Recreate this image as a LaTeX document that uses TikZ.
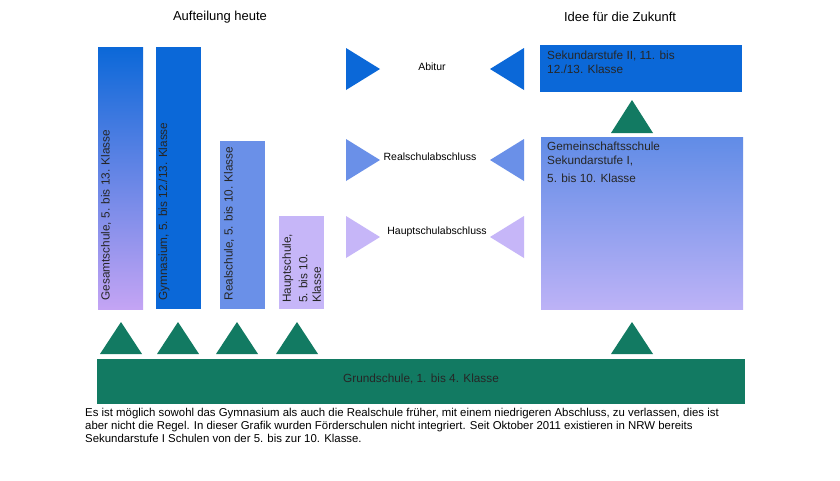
\documentclass[tikz,border=0pt]{standalone}
\usepackage{fontspec}
\setmainfont{Liberation Sans}
\begin{document}
\begin{tikzpicture}[x=1pt,y=-1pt,
  lbl/.style={font=\fontsize{11.8}{13.5}\selectfont,text=black!85},
  box/.style={draw=none,inner sep=0pt}]
\definecolor{grn}{HTML}{127A62}
\definecolor{b1}{HTML}{0B68D8}
\definecolor{b2}{HTML}{6A90E8}
\definecolor{b3}{HTML}{C6B6F8}
\definecolor{vl}{HTML}{C4A4F4}
\useasboundingbox (0,0) rectangle (840,480);
\fill[white] (0,0) rectangle (840,480);
\node[font=\fontsize{13}{15}\selectfont] (t1) at (220,17) {Aufteilung heute};
\node[font=\fontsize{13}{15}\selectfont] (t2) at (620,17) {Idee für die Zukunft};
% bars
\shade[top color=b1,bottom color=vl] (98,47) rectangle (143,309);
\fill[b1] (156,47) rectangle (201,309);
\fill[b2] (220,141) rectangle (265,309);
\fill[b3] (279,216) rectangle (324,309);
\node[lbl,rotate=90,anchor=west] (g1) at (106,304) {Gesamtschule, 5. bis 13. Klasse};
\node[lbl,rotate=90,anchor=west] (g2) at (164,304) {Gymnasium, 5. bis 12./13. Klasse};
\node[lbl,rotate=90,anchor=west] (g3) at (229,304) {Realschule, 5. bis 10. Klasse};
\node[lbl,rotate=90,anchor=north west,align=left,inner sep=1pt] (g4) at (281,304) {Hauptschule,\\[3pt]5. bis 10.\\Klasse};
% green triangles
\foreach \c in {121,178,237,297,632}{\fill[grn] (\c-21,354) -- (\c,322) -- (\c+21,354) -- cycle;}
\fill[grn] (611,133) -- (632,100) -- (653,133) -- cycle;
% Grundschule
\fill[grn] (97,359) rectangle (745,404);
\node[lbl] (gs) at (421,379) {Grundschule, 1. bis 4. Klasse};
% arrows
\fill[b1] (346,48) -- (380,69) -- (346,90) -- cycle;
\fill[b2] (346,139) -- (380,160) -- (346,181) -- cycle;
\fill[b3] (346,216) -- (380,237) -- (346,258) -- cycle;
\fill[b1] (524,48) -- (490,69) -- (524,90) -- cycle;
\fill[b2] (524,139) -- (490,160) -- (524,181) -- cycle;
\fill[b3] (524,216) -- (490,237) -- (524,258) -- cycle;
\node[font=\fontsize{10.5}{12}\selectfont] (a1) at (432,67) {Abitur};
\node[font=\fontsize{10.5}{12}\selectfont] (a2) at (430,157) {Realschulabschluss};
\node[font=\fontsize{10.5}{12}\selectfont] (a3) at (437,232) {Hauptschulabschluss};
% right side
\fill[b1] (540,45) rectangle (742,92);
\node[lbl,anchor=north west,align=left,inner sep=0pt] (s2) at (547,51) {Sekundarstufe II, 11. bis\\12./13. Klasse};
\shade[top color=b2!90!b1,bottom color=b3!90!b2] (541,137) rectangle (743,309);
\node[lbl,anchor=north west,align=left,inner sep=0pt] (s1) at (547,142) {Gemeinschaftsschule\\Sekundarstufe I,\\[5pt]5. bis 10. Klasse};
% caption
\node[anchor=north west,align=left,inner sep=0pt,font=\fontsize{11.4}{13}\selectfont] (cap) at (85,408) {Es ist möglich sowohl das Gymnasium als auch die Realschule früher, mit einem niedrigeren Abschluss, zu verlassen, dies ist\\aber nicht die Regel. In dieser Grafik wurden Förderschulen nicht integriert. Seit Oktober 2011 existieren in NRW bereits\\Sekundarstufe I Schulen von der 5. bis zur 10. Klasse.};
\end{tikzpicture}
\end{document}
